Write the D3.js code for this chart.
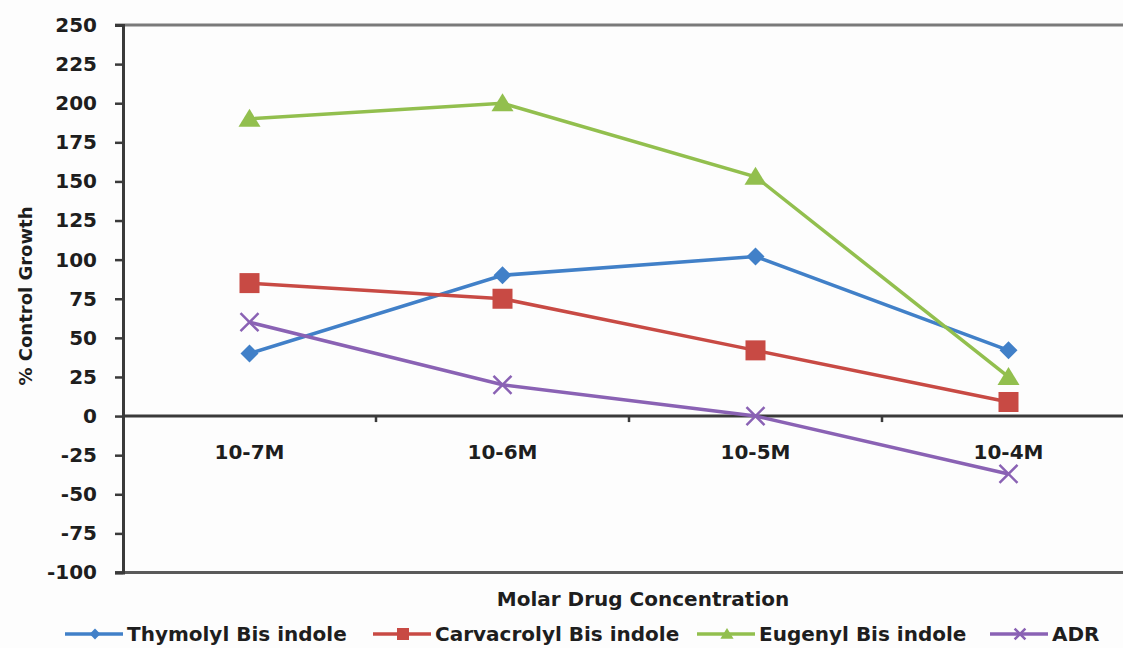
<!DOCTYPE html>
<html><head><meta charset="utf-8">
<script src="https://cdn.jsdelivr.net/npm/d3@7"></script>
<style>
body{margin:0;background:#fdfdfd;}
svg{display:block;}
text{font-family:"DejaVu Sans",sans-serif;font-weight:700;fill:#1e1e1e;}
</style></head><body>
<svg id="c" width="1123" height="648"></svg>
<script>
const categories = ["10-7M","10-6M","10-5M","10-4M"];
const thymolyl = [40, 90, 102, 42];
const carvacrolyl = [85, 75, 42, 9];
const eugenyl = [190, 200, 153, 25];
const adr = [60, 20, 0, -37];
const yTicks = [250,225,200,175,150,125,100,75,50,25,0,-25,-50,-75,-100];
const seriesNames = ["Thymolyl Bis indole","Carvacrolyl Bis indole","Eugenyl Bis indole","ADR"];
const colors = ["#4180c8","#c84a44","#92bf4e","#8a62b4"];

const svg = d3.select("#c");
const L = 123, R = 1135, T = 25, B = 572.5;
const x = d3.scalePoint().domain(categories).range([L, R]).padding(0.5);
const y = d3.scaleLinear().domain([-100, 250]).range([B, T]);

// frame lines
svg.append("line").attr("x1",L-8).attr("x2",1123).attr("y1",T).attr("y2",T).attr("stroke","#7a7a7a").attr("stroke-width",3);
svg.append("line").attr("x1",L-8).attr("x2",1123).attr("y1",B).attr("y2",B).attr("stroke","#5a5a5a").attr("stroke-width",3);

// y axis
const ya = svg.append("g").attr("transform",`translate(${L},0)`)
  .call(d3.axisLeft(y).tickValues(yTicks).tickFormat(d=>String(d)).tickSize(8).tickPadding(18));
ya.select(".domain").attr("stroke","#3a3a3a").attr("stroke-width",3);
ya.selectAll(".tick line").attr("stroke","#3a3a3a").attr("stroke-width",2.5);
ya.selectAll(".tick text").style("font-size","20px").attr("fill","#1e1e1e")
  .style("font-family","'DejaVu Sans',sans-serif").style("font-weight","700");

// x axis at zero
const band = (R - L) / categories.length;
const xa = svg.append("g").attr("transform",`translate(0,${y(0)})`);
xa.append("line").attr("x1",L).attr("x2",1123).attr("y1",0).attr("y2",0).attr("stroke","#3a3a3a").attr("stroke-width",3);
d3.range(1, categories.length).forEach(i=>{
  xa.append("line").attr("x1",L+band*i).attr("x2",L+band*i).attr("y1",0).attr("y2",6).attr("stroke","#3a3a3a").attr("stroke-width",2.5);
});
categories.forEach(c=>{
  xa.append("text").attr("x",x(c)).attr("y",43).attr("text-anchor","middle").style("font-size","20px").text(c);
});

// titles
svg.append("text").attr("transform","translate(32,296) rotate(-90)").attr("text-anchor","middle").style("font-size","18px").text("% Control Growth");
svg.append("text").attr("x",643).attr("y",606).attr("text-anchor","middle").style("font-size","20px").text("Molar Drug Concentration");

// series
const data = [thymolyl, carvacrolyl, eugenyl, adr];
const line = d3.line().x((d,i)=>x(categories[i])).y(d=>y(d));
function marker(g, k, cx, cy, s){
  const col = colors[k];
  if (k===0) g.append("path").attr("d",`M${cx},${cy-9*s}L${cx+9*s},${cy}L${cx},${cy+9*s}L${cx-9*s},${cy}Z`).attr("fill",col);
  else if (k===1) g.append("rect").attr("x",cx-10*s).attr("y",cy-10*s).attr("width",20*s).attr("height",20*s).attr("fill",col);
  else if (k===2) g.append("path").attr("d",`M${cx},${cy-10*s}L${cx+11*s},${cy+8*s}L${cx-11*s},${cy+8*s}Z`).attr("fill",col);
  else g.append("path").attr("d",`M${cx-9*s},${cy-9*s}L${cx+9*s},${cy+9*s}M${cx+9*s},${cy-9*s}L${cx-9*s},${cy+9*s}`).attr("stroke",col).attr("stroke-width",2.5);
}
data.forEach((vals,k)=>{
  const g = svg.append("g");
  g.append("path").datum(vals).attr("d",line).attr("fill","none").attr("stroke",colors[k]).attr("stroke-width",3.5);
  vals.forEach((v,i)=>marker(g,k,x(categories[i]),y(v),1));
});

// legend
const legX = [65, 373, 697, 990];
const ly = 634;
seriesNames.forEach((n,k)=>{
  const g = svg.append("g");
  g.append("line").attr("x1",legX[k]).attr("x2",legX[k]+58).attr("y1",ly).attr("y2",ly).attr("stroke",colors[k]).attr("stroke-width",3.5);
  marker(g,k,legX[k]+30,ly,0.6);
  g.append("text").attr("x",legX[k]+62).attr("y",ly+7).style("font-size","20px").text(n);
});
</script></body></html>
